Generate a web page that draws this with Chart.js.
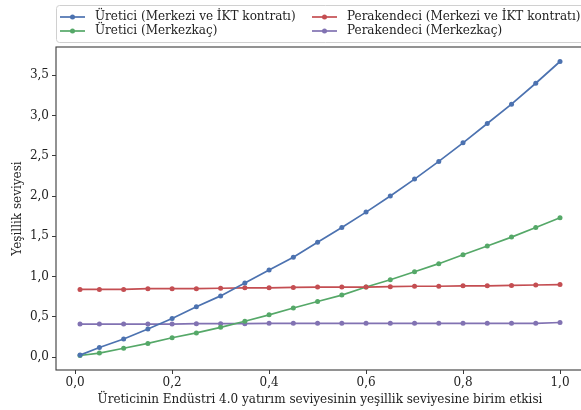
<!DOCTYPE html>
<html><head><meta charset="utf-8">
<script src="https://cdn.jsdelivr.net/npm/chart.js@4/dist/chart.umd.min.js"></script>
<style>
html,body{margin:0;padding:0;background:#fff;overflow:hidden;}
#wrap{width:581px;height:410px;position:relative;overflow:hidden;}
#c{display:block;}
</style></head><body>
<div id="wrap"><canvas id="c" width="590" height="410"></canvas></div>
<script>
const xValues = [0.01,0.05,0.10,0.15,0.20,0.25,0.30,0.35,0.40,0.45,0.50,0.55,0.60,0.65,0.70,0.75,0.80,0.85,0.90,0.95,1.00];
const ureticiMerkezi = [0.025,0.12,0.225,0.35,0.48,0.625,0.76,0.92,1.08,1.24,1.425,1.61,1.80,2.00,2.21,2.43,2.66,2.90,3.14,3.40,3.67];
const perakendeciMerkezi = [0.84,0.84,0.84,0.85,0.85,0.85,0.855,0.86,0.86,0.865,0.87,0.87,0.87,0.875,0.88,0.88,0.885,0.885,0.89,0.895,0.90];
const ureticiMerkezkac = [0.02,0.05,0.11,0.17,0.24,0.30,0.37,0.445,0.525,0.61,0.69,0.77,0.87,0.96,1.06,1.16,1.27,1.38,1.49,1.61,1.73];
const perakendeciMerkezkac = [0.41,0.41,0.41,0.41,0.41,0.415,0.415,0.415,0.42,0.42,0.42,0.42,0.42,0.42,0.42,0.42,0.42,0.42,0.42,0.42,0.43];
const xTicks = [0,0.2,0.4,0.6,0.8,1.0];
const yTicks = [0,0.5,1.0,1.5,2.0,2.5,3.0,3.5];
const seriesNames = ['Üretici (Merkezi ve İKT kontratı)','Perakendeci (Merkezi ve İKT kontratı)','Üretici (Merkezkaç)','Perakendeci (Merkezkaç)'];
const seriesColors = ['#4C72B0','#C44E52','#55A868','#8172B2'];
const seriesValues = [ureticiMerkezi, perakendeciMerkezi, ureticiMerkezkac, perakendeciMerkezkac];
const xTitle = 'Üreticinin Endüstri 4.0 yatırım seviyesinin yeşillik seviyesine birim etkisi';
const yTitle = 'Yeşillik seviyesi';

const FONT = '"DejaVu Serif", serif';
const fmt = v => v.toFixed(1).replace('.', ',');

const datasets = seriesValues.map((vals, i) => ({
  label: seriesNames[i],
  data: xValues.map((x, j) => ({x: x, y: vals[j]})),
  borderColor: seriesColors[i],
  backgroundColor: seriesColors[i],
  borderWidth: 1.7,
  pointRadius: 2.5,
  pointBorderWidth: 0,
  pointHoverRadius: 2.5,
  tension: 0
}));

const deco = {
  id: 'deco',
  afterDraw(chart) {
    const ctx = chart.ctx, a = chart.chartArea;
    ctx.save();
    // frame
    ctx.strokeStyle = '#3a3a3a';
    ctx.lineWidth = 1.1;
    ctx.strokeRect(a.left, a.top, a.right - a.left, a.bottom - a.top);
    // titles
    ctx.fillStyle = '#222';
    ctx.font = '12px ' + FONT;
    ctx.textAlign = 'center';
    ctx.textBaseline = 'middle';
    ctx.fillText(xTitle, (a.left + a.right) / 2, 400);
    ctx.save();
    ctx.translate(18, (a.top + a.bottom) / 2);
    ctx.rotate(-Math.PI / 2);
    ctx.fillText(yTitle, 0, 0);
    ctx.restore();
    // legend box
    ctx.strokeStyle = '#d0d0d0';
    ctx.lineWidth = 1;
    ctx.fillStyle = 'rgba(255,255,255,0.9)';
    const bx = 56.5, by = 5.5, bw = 540, bh = 37, r = 3;
    ctx.beginPath();
    ctx.moveTo(bx + r, by);
    ctx.lineTo(bx + bw - r, by); ctx.arcTo(bx + bw, by, bx + bw, by + r, r);
    ctx.lineTo(bx + bw, by + bh - r); ctx.arcTo(bx + bw, by + bh, bx + bw - r, by + bh, r);
    ctx.lineTo(bx + r, by + bh); ctx.arcTo(bx, by + bh, bx, by + bh - r, r);
    ctx.lineTo(bx, by + r); ctx.arcTo(bx, by, bx + r, by, r);
    ctx.closePath();
    ctx.fill(); ctx.stroke();
    const cols = [60, 312];
    const rows = [17, 31];
    chart.data.datasets.forEach((ds, i) => {
      const cx = cols[i % 2], cy = rows[Math.floor(i / 2)];
      ctx.strokeStyle = ds.borderColor;
      ctx.lineWidth = 1.7;
      ctx.beginPath(); ctx.moveTo(cx, cy); ctx.lineTo(cx + 25, cy); ctx.stroke();
      ctx.fillStyle = ds.borderColor;
      ctx.beginPath(); ctx.arc(cx + 12.5, cy, 2.5, 0, Math.PI * 2); ctx.fill();
      ctx.fillStyle = '#222';
      ctx.font = '12px ' + FONT;
      ctx.textAlign = 'left';
      ctx.textBaseline = 'middle';
      ctx.fillText(ds.label, cx + 35, cy);
    });
    ctx.restore();
  }
};

new Chart(document.getElementById('c'), {
  type: 'line',
  data: { datasets },
  options: {
    responsive: false,
    animation: false,
    events: [],
    layout: { padding: { top: 47, right: 6, left: 0, bottom: 0 } },
    plugins: { legend: { display: false }, tooltip: { enabled: false } },
    scales: {
      x: {
        type: 'linear',
        min: -0.0395, max: 1.0495,
        afterBuildTicks: s => { s.ticks = xTicks.map(v => ({value: v})); },
        afterFit: s => { s.height = 40; },
        ticks: { callback: v => fmt(v), font: { family: FONT, size: 12 }, color: '#222', padding: 2, maxRotation: 0, autoSkip: false },
        grid: { drawOnChartArea: false, tickLength: 4, tickColor: '#3a3a3a', tickWidth: 1 },
        border: { display: false }
      },
      y: {
        type: 'linear',
        min: -0.16, max: 3.85,
        afterBuildTicks: s => { s.ticks = yTicks.map(v => ({value: v})); },
        afterFit: s => { s.width = 56; },
        ticks: { callback: v => fmt(v), font: { family: FONT, size: 12 }, color: '#222', padding: 3, autoSkip: false },
        grid: { drawOnChartArea: false, tickLength: 4, tickColor: '#3a3a3a', tickWidth: 1 },
        border: { display: false }
      }
    }
  },
  plugins: [deco]
});
</script>
</body></html>
